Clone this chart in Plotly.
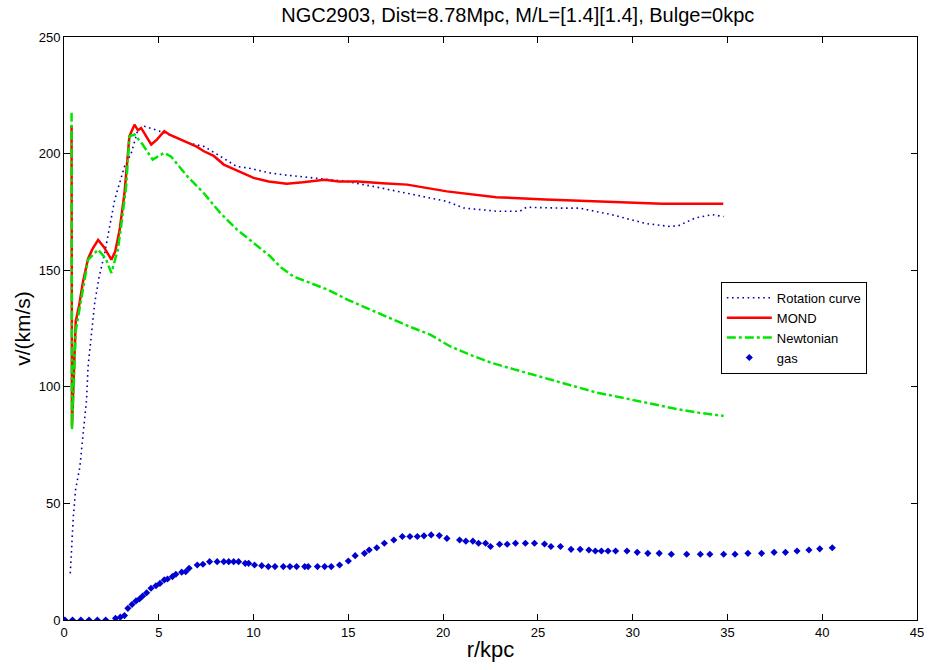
import plotly.graph_objects as go

# Rotation curve (observed)
rot_r = [0.33, 0.49, 0.61, 0.84, 1.01, 1.19, 1.27, 1.45, 1.62, 1.85, 2.15, 2.67, 3.19, 3.54, 3.89, 4.24,
         5.29, 6.5, 7.4, 8.26, 9.1, 9.74, 10.87, 11.48, 12.6, 13.23, 14.97, 16.7, 18.47, 20.2, 21.08,
         22.8, 24.05, 24.4, 26.3, 27.2, 28.9, 30.7, 31.9, 32.4, 33.3, 34.2, 34.8]
rot_v = [20, 44, 55.8, 65.8, 80, 94.4, 108.7, 123, 136, 147, 157.5, 180, 194.5, 200, 210, 211.7,
         209, 204.7, 203, 198.8, 194.5, 193.8, 191.7, 191, 190, 189.5, 188, 185.3, 182.4, 179.5, 176.7,
         175.3, 175.3, 177, 176.6, 176.6, 173.8, 170, 168.8, 169, 172.4, 173.8, 173]

# MOND fit
mond_r = [0.40, 0.42, 0.62, 0.8, 1.0, 1.27, 1.5, 1.8, 2.1, 2.5, 2.7, 2.93, 3.19, 3.45, 3.72, 3.9, 4.07,
          4.35, 4.6, 4.9, 5.29, 5.6, 6.0, 6.5, 7.0, 7.38, 7.9, 8.43, 9.2, 10.0, 10.8, 11.75, 12.6,
          13.75, 14.5, 15.5, 16.8, 18.1, 20.2, 22.8, 25.4, 28.9, 31.55, 34.78]
mond_v = [212, 83, 128, 135, 145, 155, 159, 163, 160, 154.5, 158, 167, 183, 207.4, 212.4, 210, 211,
          207, 203.9, 206, 209.6, 208, 206.5, 204.6, 203, 201, 199, 195.3, 192.5, 189.6, 188, 187.1, 187.7,
          188.8, 188, 188, 187.3, 186.7, 183.8, 181.3, 180.3, 179.1, 178.5, 178.5]

# Newtonian fit
newt_r = [0.40, 0.42, 0.62, 1.0, 1.27, 1.8, 2.2, 2.5, 2.84, 3.0, 3.28, 3.45, 3.72, 4.15, 4.68, 5.29,
          5.64, 6.5, 7.38, 8.25, 9.13, 10.87, 11.4, 12.1, 13.93, 14.97, 16.2, 17.24, 18.29, 19.34,
          20.38, 21.43, 22.57, 23.7, 24.75, 25.8, 26.84, 28.06, 29.1, 30.16, 31.2, 32.25, 33.3, 34.5, 34.8]
newt_v = [217.5, 81.5, 124, 142, 154.5, 158.8, 155, 148.8, 158.8, 168, 186, 207.4, 208.2, 203.9, 197.4,
          200.3, 198.8, 190.3, 183, 174.5, 167.4, 156, 151.5, 147.3, 141.6, 137.3, 133, 129.4, 125.6,
          122.3, 117.3, 113.7, 110.2, 107.6, 105.2, 102.7, 100.1, 97.6, 95.9, 94.1, 92.3, 90.6, 89.1, 88, 87.5]

# Gas contribution
gas_r = [0.05, 0.45, 0.89, 1.32, 1.76, 2.2, 2.72, 2.97, 3.19, 3.37, 3.59, 3.8, 3.98, 4.15, 4.36, 4.59,
         4.85, 5.06, 5.29, 5.46, 5.72, 5.9, 6.21, 6.42, 6.6, 7.03, 7.33, 7.68, 8.08, 8.43, 8.69, 8.95,
         9.21, 9.56, 9.74, 10.05, 10.43, 10.78, 11.13, 11.57, 11.92, 12.27, 12.7, 12.88, 13.37, 13.75,
         14.1, 14.54, 15.0, 15.36, 15.85, 16.1, 16.5, 16.9, 17.4, 17.85, 18.25, 18.64, 18.99, 19.37,
         19.8, 20.2, 20.87, 21.2, 21.57, 21.87, 22.24, 22.5, 22.98, 23.38, 23.82, 24.34, 24.82, 25.35,
         25.69, 26.19, 26.75, 27.23, 27.69, 28.03, 28.35, 28.7, 29.1, 29.7, 30.24, 30.8, 31.4, 32.04,
         32.85, 33.57, 34.07, 34.8, 35.4, 36.08, 36.8, 37.46, 38.06, 38.67, 39.3, 39.87, 40.53]
gas_v = [0, 0, 0, 0, 0, 0, 0.7, 1.2, 1.9, 5, 6.7, 8.2, 9, 10.3, 11.7, 13.6,
         14.7, 15.7, 17.2, 17.6, 18.6, 19.6, 20.5, 20.7, 22.2, 23.6, 23.9, 25, 25, 25, 25, 25,
         25, 24.3, 24.3, 23.6, 23.3, 22.9, 22.9, 22.9, 22.9, 22.9, 22.9, 22.9, 22.9, 22.9,
         22.9, 23.6, 25.3, 27.6, 28.6, 30, 31, 32.9, 34.3, 35.8, 35.8, 35.8, 36.1, 36.5,
         36.2, 35, 34.3, 33.8, 33.8, 32.9, 32.9, 31.5, 32.5, 32.5, 32.9, 32.9, 32.9, 32.6,
         31.5, 31.5, 30.3, 30.3, 30.0, 29.6, 29.6, 29.6, 29.6, 29.6, 29.0, 28.6, 28.6, 28.2,
         28.2, 28.2, 28.2, 28.2, 28.2, 28.6, 28.6, 29.0, 29.0, 29.6, 30.0, 30.5, 31.0]

title_text = "NGC2903, Dist=8.78Mpc, M/L=[1.4][1.4], Bulge=0kpc"
x_ticks = [0, 5, 10, 15, 20, 25, 30, 35, 40, 45]
y_ticks = [0, 50, 100, 150, 200, 250]

FONT = "Liberation Sans, Arial, sans-serif"

fig = go.Figure()
fig.add_trace(go.Scatter(x=rot_r, y=rot_v, mode="lines", name="Rotation curve",
                         line=dict(color="#0000b4", width=1.6, dash="1.6px,3.6px")))
fig.add_trace(go.Scatter(x=mond_r, y=mond_v, mode="lines", name="MOND",
                         line=dict(color="#ff0000", width=2.5)))
fig.add_trace(go.Scatter(x=newt_r, y=newt_v, mode="lines", name="Newtonian",
                         line=dict(color="#00e600", width=2.5, dash="dashdot")))
fig.add_trace(go.Scatter(x=gas_r, y=gas_v, mode="markers", name="gas",
                         marker=dict(color="#0000d0", size=5.5, symbol="diamond")))

axis_common = dict(showline=True, linecolor="black", linewidth=1, mirror="ticks",
                   ticks="inside", ticklen=6, tickcolor="black", showgrid=False, zeroline=False,
                   tickfont=dict(family=FONT, size=13, color="black"))

fig.update_layout(
    width=933, height=670,
    paper_bgcolor="white", plot_bgcolor="white",
    margin=dict(l=64, r=9, t=37, b=50),
    title=dict(text=title_text, x=0.555, xanchor="center", y=0.988, yanchor="top",
               font=dict(family=FONT, size=20, color="black")),
    xaxis=dict(range=[0, 45], tickvals=x_ticks, title=dict(text="r/kpc", standoff=3,
               font=dict(family=FONT, size=22, color="black")), **axis_common),
    yaxis=dict(range=[0, 250], tickvals=y_ticks, title=dict(text="v/(km/s)", standoff=2,
               font=dict(family=FONT, size=21, color="black")), **axis_common),
    legend=dict(x=0.77, y=0.58, xanchor="left", yanchor="top",
                bordercolor="black", borderwidth=1, bgcolor="white",
                font=dict(family=FONT, size=13, color="black"),
                tracegroupgap=0, itemwidth=45),
    showlegend=True,
)

fig.write_html("out.html")
